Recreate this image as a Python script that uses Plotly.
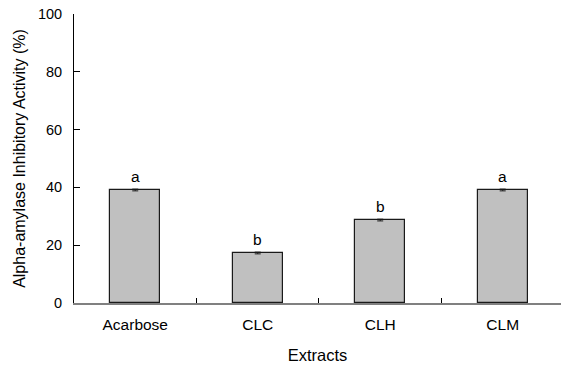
import plotly.graph_objects as go

categories = ["Acarbose", "CLC", "CLH", "CLM"]
values = [39.1, 17.3, 28.7, 39.1]
errors = [0.3, 0.3, 0.3, 0.3]
letters = ["a", "b", "b", "a"]
y_ticks = [0, 20, 40, 60, 80, 100]

font = "Liberation Sans, Arial, sans-serif"

fig = go.Figure()
fig.add_trace(go.Bar(
    x=categories, y=values,
    width=0.41,
    marker=dict(color="#c0c0c0", line=dict(color="#1a1a1a", width=1.2)),
    error_y=dict(type="data", array=errors, visible=True, color="#1a1a1a", thickness=1, width=3),
    showlegend=False,
))

for c, v, t in zip(categories, values, letters):
    fig.add_annotation(x=c, y=v, text=t, showarrow=False, yshift=14,
                       font=dict(family=font, size=15.5, color="#000"))

fig.update_layout(
    width=561, height=365,
    margin=dict(l=74, r=0, t=14, b=62),
    plot_bgcolor="white", paper_bgcolor="white",
    font=dict(family=font, size=15, color="#000"),
    bargap=0,
)
fig.update_xaxes(
    range=[-0.5, 3.476], automargin=False,
    showline=True, linecolor="#808080", linewidth=2,
    ticks="inside", tickson="boundaries", ticklen=5, tickcolor="#000", tickwidth=1,
    ticklabelstandoff=6,
    title=dict(text="Extracts", standoff=18, font=dict(size=16.5)),
    tickfont=dict(size=15.5),
    showgrid=False, zeroline=False,
)
fig.update_yaxes(
    range=[0, 100], tickvals=y_ticks, automargin=False,
    showline=True, linecolor="#000", linewidth=1,
    ticks="inside", ticklen=6, tickcolor="#000", tickwidth=1,
    ticklabelstandoff=8,
    title=dict(text="Alpha-amylase Inhibitory Activity (%)", standoff=8, font=dict(size=16)),
    tickfont=dict(size=14.5),
    showgrid=False, zeroline=False,
)

fig.write_html("out.html", config={"displayModeBar": False},
               post_script="document.body.style.margin='0';")
